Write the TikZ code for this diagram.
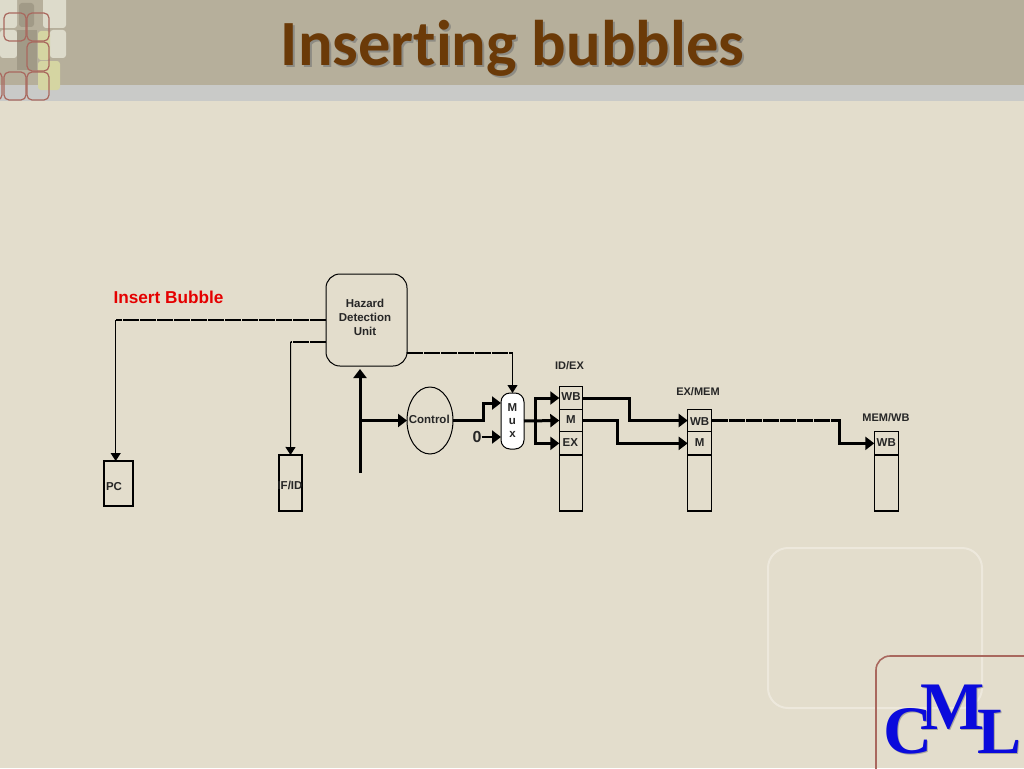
\documentclass[tikz,border=0pt]{standalone}
\usepackage{fontspec}
\setmainfont{Liberation Sans}
\newfontfamily\titlefont[Ligatures=NoCommon]{Carlito}
\newfontfamily\logofont{Liberation Serif}
\usetikzlibrary{arrows.meta,shapes.geometric}
\newcommand{\liftup}[1]{\rule[-#1]{0pt}{#1}}
\definecolor{pagebg}{HTML}{E3DDCC}
\definecolor{headbg}{HTML}{B6AF9B}
\definecolor{bandbg}{HTML}{C9CAC8}
\definecolor{titlecol}{HTML}{6B3A08}
\definecolor{framered}{HTML}{A9685E}
\definecolor{paleline}{HTML}{EDE8DC}
\definecolor{logoblue}{HTML}{0A0ADC}
\definecolor{palebox}{HTML}{DDDBCB}
\definecolor{darkbox}{HTML}{A19A87}
\definecolor{yelbox}{HTML}{D5D5A2}
\tikzset{
  lab/.style={font=\bfseries\fontsize{11.5}{14}\selectfont,text=black!85,align=center,inner sep=0pt},
  cell/.style={draw=black,line width=1.3pt,inner sep=0pt,outer sep=0pt,lab},
  tick/.style={dash pattern=on 16pt off 1pt},
  thinline/.style={line width=1pt,draw=black},
  midline/.style={line width=2pt,draw=black,tick},
  bus/.style={line width=3pt,draw=black},
  tiplg/.style={-{Triangle[length=9pt,width=13pt]}},
  tipsm/.style={-{Triangle[length=8pt,width=10pt]}},
  redsq/.style={draw=framered,line width=1.2pt,rounded corners=5pt},
  palesq/.style={fill=#1,rounded corners=3pt,draw=none},
}
\begin{document}
\begin{tikzpicture}[x=1pt,y=-1pt]
\useasboundingbox (0,0) rectangle (1024,768);
% backdrop
\fill[pagebg] (0,0) rectangle (1024,768);
\fill[headbg] (0,0) rectangle (1024,85);
\fill[bandbg] (0,85) rectangle (1024,101);
% top-left ornament
\fill[palesq=palebox] (-5,-5) rectangle (17,28);
\fill[palesq=palebox] (43,-5) rectangle (66,28);
\fill[palesq=palebox] (0,30) rectangle (17,58);
\fill[palesq=palebox] (50,30) rectangle (66,58);
\fill[darkbox] (17,30) rectangle (37,70);
\fill[palesq=darkbox] (19,3) rectangle (34,27);
\fill[palesq=yelbox] (38,31) rectangle (50,60);
\fill[palesq=yelbox] (38,61) rectangle (60,90);
\draw[redsq] (4,13) rectangle (26,41);
\draw[redsq] (27,13) rectangle (49,41);
\draw[redsq] (27,42) rectangle (49,71);
\draw[redsq] (-18,72) rectangle (2,100);
\draw[redsq] (4,72) rectangle (26,100);
\draw[redsq] (27,72) rectangle (49,100);
% bottom-right ornament
\draw[paleline,line width=2pt,rounded corners=20pt] (768,548) rectangle (982,708);
\draw[framered,line width=1.6pt,rounded corners=14pt] (876,775) -- (876,656) -- (1030,656);
% title
\node[anchor=base,text=black!55,inner sep=0pt,font=\titlefont\bfseries\fontsize{64.5}{64}\selectfont,opacity=.6] (titleshadow) at (514.5,67.5) {Inserting bubbles};
\node[anchor=base,text=titlecol,inner sep=0pt,font=\titlefont\bfseries\fontsize{64.5}{64}\selectfont] (title) at (512.5,65.5) {Inserting bubbles};
% logo
\node[anchor=base west,inner sep=0pt,text=black!50,opacity=.6,font=\logofont\bfseries\fontsize{68}{68}\selectfont] (cs) at (884.5,754.5) {C};
\node[anchor=base west,inner sep=0pt,text=black!50,opacity=.6,font=\logofont\bfseries\fontsize{68}{68}\selectfont] (ms) at (921.5,730.5) {M};
\node[anchor=base west,inner sep=0pt,text=black!50,opacity=.6,font=\logofont\bfseries\fontsize{66}{66}\selectfont] (ls) at (978.5,754.5) {L};
\node[anchor=base west,inner sep=0pt,text=logoblue,font=\logofont\bfseries\fontsize{68}{68}\selectfont] (c) at (883,753) {C};
\node[anchor=base west,inner sep=0pt,text=logoblue,font=\logofont\bfseries\fontsize{68}{68}\selectfont] (m) at (920,729) {M};
\node[anchor=base west,inner sep=0pt,text=logoblue,font=\logofont\bfseries\fontsize{66}{66}\selectfont] (l) at (977,753) {L};
% main nodes
\node[draw=black,line width=1pt,rounded corners=14pt,minimum width=81pt,minimum height=92pt,inner sep=0pt,outer sep=0pt,lab] (haz) at (366.5,320) {\hspace*{-3pt}\parbox{60pt}{\centering Hazard\\Detection\\Unit\liftup{6pt}}};
\node[draw=black,line width=1pt,ellipse,minimum width=46pt,minimum height=67pt,inner sep=0pt,outer sep=0pt,lab] (ctl) at (430,420.5) {\makebox[0pt]{\hspace*{-1.5pt}Control\liftup{3pt}}};
\node[draw=black,fill=white,line width=1pt,rounded corners=9pt,minimum width=23pt,minimum height=56pt,inner sep=0pt,outer sep=0pt,lab] (mux) at (512.5,421) {M\\[-1pt]u\\[-1pt]x};
\node[lab,font=\bfseries\fontsize{16}{16}\selectfont] (zero) at (477,437) {0};
\node[lab,font=\bfseries\fontsize{17.2}{17}\selectfont,text=red!90!black] (bubble) at (168.5,297.5) {Insert Bubble};
% registers
\node[cell,minimum width=29pt,minimum height=45pt] (pc) at (118.5,483.5) {\hspace*{-9pt}PC\rule{0pt}{14pt}};
\node[cell,minimum width=23.5pt,minimum height=56pt,line width=1.6pt] (ifid) at (290.5,483) {\makebox[0pt]{\hspace*{-1pt}IF/ID\rule{0pt}{14pt}}};
\node[cell,minimum width=23.4pt,minimum height=22.6pt] (idwb) at (571,398) {WB\liftup{2pt}};
\node[cell,minimum width=23.4pt,minimum height=22.4pt] (idm) at (571,420.5) {M\liftup{2pt}};
\node[cell,minimum width=23.4pt,minimum height=23.3pt] (idex) at (571,443.35) {\hspace*{-1.5pt}EX\liftup{2pt}};
\node[cell,minimum width=23.4pt,minimum height=56pt] (idlow) at (571,483) {};
\node[cell,minimum width=24pt,minimum height=22.4pt] (exwb) at (699.7,420.5) {WB\rule{0pt}{10pt}};
\node[cell,minimum width=24pt,minimum height=23.3pt] (exm) at (699.7,443.35) {M\liftup{2pt}};
\node[cell,minimum width=24pt,minimum height=56pt] (exlow) at (699.7,483) {};
\node[cell,minimum width=24pt,minimum height=23.3pt] (memwb) at (886.3,443.35) {WB\liftup{2pt}};
\node[cell,minimum width=24pt,minimum height=56pt] (memlow) at (886.3,483) {};
\node[lab,font=\bfseries\fontsize{11}{14}\selectfont] (lidex) at (569.5,366) {ID/EX};
\node[lab,font=\bfseries\fontsize{11}{14}\selectfont] (lexmem) at (698,392) {EX/MEM};
\node[lab,font=\bfseries\fontsize{11}{14}\selectfont] (lmemwb) at (886,418) {MEM/WB};
% free ends
\coordinate (pcin) at (115.7,461);
\coordinate (pcturn) at (115.7,320);
\coordinate (ifturn) at (290.7,341.7);
\coordinate (addr) at (360,473);
\coordinate (muxa) at (501,403);
\coordinate (muxb) at (501,437);
\coordinate (split) at (535,420.5);
\coordinate (memturn) at (839.3,420.5);
% connectors
\draw[midline] (haz.west) -- (pcturn);
\draw[thinline,tipsm] (pcturn) -- (pcin);
\draw[line width=1.6pt,tick] (haz.west |- ifturn) -- (ifturn);
\draw[thinline,tipsm] (ifturn) -- (ifid.north);
\draw[line width=1.6pt,tick] (haz.east |- 0,353) -- (512.5,353);
\draw[thinline,tipsm] (512.5,353) -- (mux.north);
\draw[bus,tiplg,shorten >=3pt] (addr) -- (addr |- haz.south);
\draw[bus,tiplg] (addr |- ctl.west) -- (ctl.west);
\draw[bus,tiplg] (ctl.east) -- (483,420.5) |- (muxa);
\draw[line width=2pt,tiplg] (zero.east) -- (muxb);
\draw[bus,tiplg] (mux.east) -- (idm.west);
\draw[bus,tiplg] (split) |- (idwb.west);
\draw[bus,tiplg] (split) |- (idex.west);
\draw[bus,tiplg] (idwb.east) -- (629.3,398) |- (exwb.west);
\draw[bus,tiplg] (idm.east) -- (617.3,420.5) |- (exm.west);
\draw[bus,tick] (exwb.east) -- (memturn);
\draw[bus,tiplg,line cap=rect] (memturn) |- (memwb.west);
\end{tikzpicture}
\end{document}
